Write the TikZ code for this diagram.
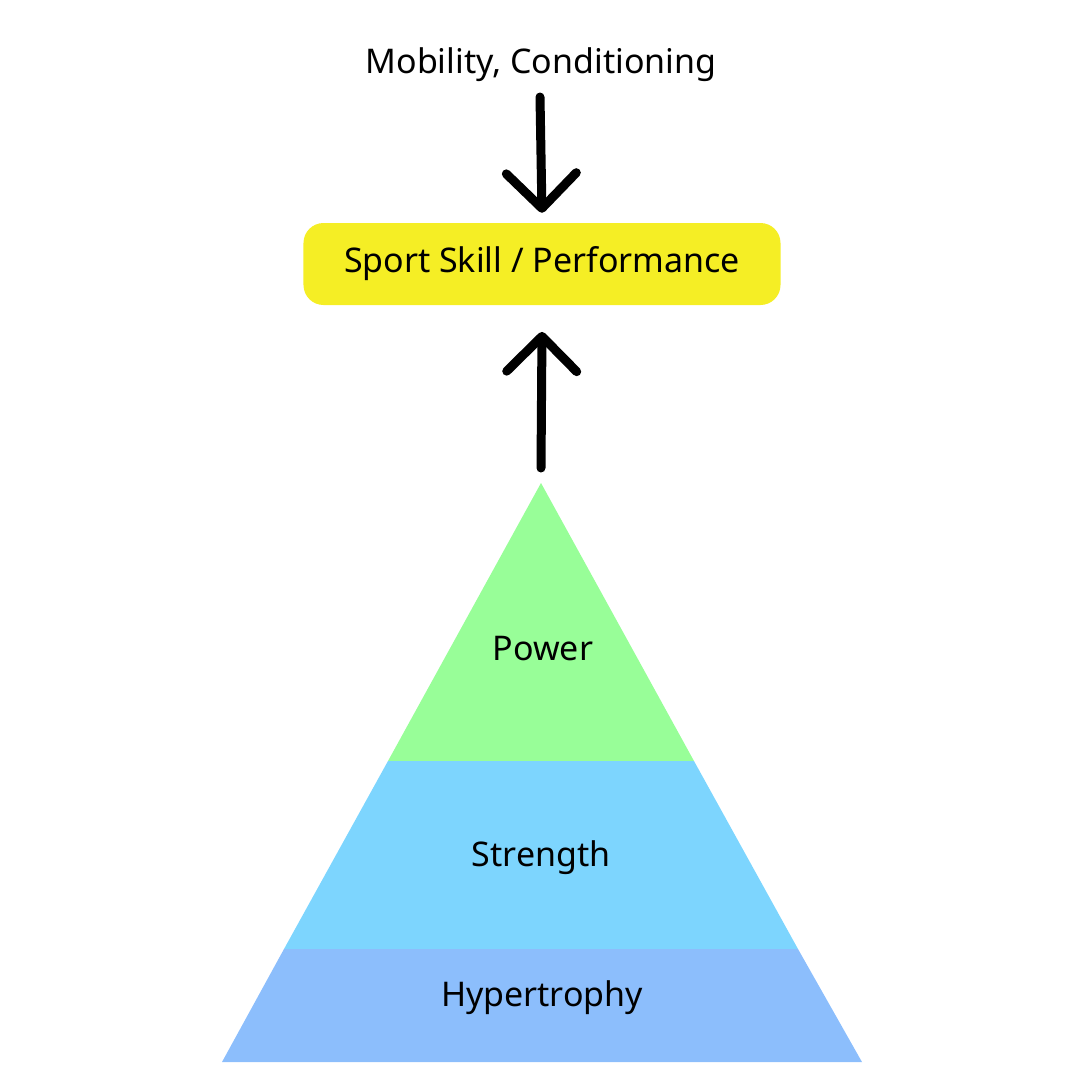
\documentclass[tikz,border=0pt]{standalone}
\usepackage{fontspec}
\setmainfont{Noto Sans}
\usetikzlibrary{arrows.meta,positioning}
\definecolor{skillyellow}{HTML}{F5EE25}
\definecolor{powergreen}{HTML}{98FE98}
\definecolor{strengthblue}{HTML}{7DD5FE}
\definecolor{hyperblue}{HTML}{8CBEFC}
\tikzset{label text/.style={font=\fontsize{29}{34}\selectfont},
    bigarrow/.style={draw, line width=0.27cm, line cap=round,
      -{Straight Barb[length=1.05cm, width=2.1cm, line cap=round, line join=round]}}}

\begin{document}
\begin{tikzpicture}[x=0.03cm, y=-0.03cm]
    \useasboundingbox (0,0) rectangle (1080,1080);
    % Pyramid
    \fill [powergreen] (541,483) -- (694,761) -- (388,761) -- cycle;
    \fill [strengthblue] (388,761) -- (694,761) -- (798,949) -- (284,949) -- cycle;
    \fill [hyperblue] (284,949) -- (798,949) -- (862,1062) -- (222,1062) -- cycle;
    \node [label text] (power) at (543,649) {Power};
    \node [label text] (strength) at (541,858) {Strength};
    \node [label text] (hyper) at (542,998) {Hypertrophy};
    % Top
    \node [label text, fill=skillyellow, rounded corners=0.6cm,
        minimum width=14.31cm, minimum height=2.46cm] (skill) at (542,264) {Sport Skill / Performance};
    \node [label text] (mobility) at (541,65) {Mobility, Conditioning};
    \coordinate (apex) at (541,468);
    \coordinate (mobtail) at (540,97);
    % Edges
    \path [bigarrow] (apex) -- ([yshift=-0.8cm]skill.south);
    \path [bigarrow] (mobtail) -- ([yshift=0.3cm]skill.north);
\end{tikzpicture}
\end{document}
